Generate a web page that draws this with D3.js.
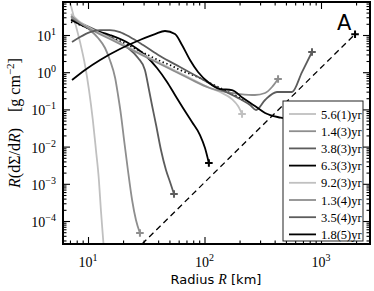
<!DOCTYPE html>
<html><head><meta charset="utf-8">
<script src="https://cdn.jsdelivr.net/npm/d3@7"></script>
<style>body{margin:0;background:#fff}svg{display:block}</style>
</head><body>
<svg id="c" width="374" height="291"></svg>
<script>
// ---- data ----
const legendLabels = ["5.6(1)yr","1.4(3)yr","3.8(3)yr","6.3(3)yr","9.2(3)yr","1.3(4)yr","3.5(4)yr","1.8(5)yr"];
const lineColors = ["#c0c0c0","#8e8e8e","#5c5c5c","#000000","#c0c0c0","#8e8e8e","#5c5c5c","#000000"];

const R1 = [7.0,7.4,7.73,8.54,9.42,10.2,11.0,11.7,12.4,12.9,13.5,13.9];
const V1 = [75,40,22.3,6.48,1.56,0.332,0.0519,0.0081,0.00127,0.000198,3.08e-5,8.95e-6];

const R2 = [7.15,8.54,10.4,12.2,14.0,15.4,17.1,18.1,19.2,20.4,22.0,23.9,25.8,27.9];
const V2 = [30.5,21.0,13.6,8.30,4.47,2.13,0.698,0.244,0.0707,0.0150,0.00235,0.000367,0.000106,4.75e-5];

const R3 = [7.15,9.42,12.7,17.1,22.0,26.9,30.8,33.4,35.4,38.4,42.3,46.7,50.6,54.7];
const V3 = [26.9,18.6,12.0,7.34,4.47,2.41,1.15,0.332,0.131,0.0381,0.0081,0.00235,0.00112,0.000532];

const R4 = [7.15,10.4,15.4,22.9,30.8,39.1,47.7,55.8,65.4,78.1,91.5,101,109];
const V4 = [25.3,14.5,10.0,5.73,2.90,1.30,0.545,0.244,0.109,0.0458,0.0205,0.00917,0.00362];

const R5 = [7.15,8.54,10.4,15.4,22.9,34.0,50.6,75.1,111,141,172,194,210];
const V5 = [36.7,22.3,15.4,8.30,4.47,2.41,1.30,0.698,0.376,0.276,0.190,0.123,0.0752];

const R6 = [7.15,8.54,10.4,15.4,22.9,34.0,50.6,75.1,111,150,202,271,331,380,428];
const V6 = [32.4,21.0,14.5,7.80,4.20,2.27,1.22,0.656,0.376,0.294,0.259,0.244,0.276,0.400,0.656];

const R7 = [7.29,8.54,10.4,12.7,15.4,18.8,22.9,29.7,41.5,61.6,91.5,136,202,246,277,331,419,564,687,837];
const V7 = [6.48,8.84,12.0,13.6,13.6,12.0,8.84,5.39,2.72,1.38,0.698,0.353,0.190,0.131,0.0964,0.179,0.294,0.294,1.01,3.49];

const R8 = [7.29,9.42,12.7,18.8,27.9,37.6,45.8,55.8,64.1,75.1,88.0,107,136,172,214,271,331,450,700];
const V8 = [0.617,1.15,2.13,4.20,7.34,10.6,12.8,10.6,5.39,2.13,1.01,0.545,0.353,0.332,0.202,0.123,0.0800,0.060,0.05];

const Rdot = [7.15,8.54,10.4,12.7,15.4,18.8,22.9,27.9,34.0,41.5,50.6,61.6,75.1,91.5,111,136,166,202,223];
const Vdot = [22.3,18.6,14.5,11.3,8.84,6.90,5.06,3.71,2.72,2.00,1.56,1.15,0.895,0.698,0.512,0.376,0.276,0.202,0.158];

const Rdash = [29.1,1960];
const Vdash = [2.41e-5,10.5];

const xMajor = [10,100,1000];
const yMajor = [1e-4,1e-3,1e-2,1e-1,1,10];
const xTickLabels = ["1","2","3"];
const yTickLabels = ["\u22124","\u22123","\u22122","\u22121","0","1"];

// ---- chart ----
const seriesR = [R1,R2,R3,R4,R5,R6,R7,R8];
const seriesV = [V1,V2,V3,V4,V5,V6,V7,V8];

const svg = d3.select("#c");
const L=63, Rr=370, T=2, B=244;
const x = d3.scaleLog().domain([6.10,2634]).range([L,Rr]);
const y = d3.scaleLog().domain([2.41e-5,77.1]).range([B,T]);

svg.append("defs").append("clipPath").attr("id","clip")
  .append("rect").attr("x",L).attr("y",T).attr("width",Rr-L).attr("height",B-T);

const plot = svg.append("g").attr("clip-path","url(#clip)");
const line = d3.line().x(d=>x(d[0])).y(d=>y(d[1])).curve(d3.curveMonotoneX);

// dashed reference line
plot.append("path").datum(Rdash.map((r,i)=>[r,Vdash[i]]))
  .attr("d",d3.line().x(d=>x(d[0])).y(d=>y(d[1])))
  .attr("fill","none").attr("stroke","#000").attr("stroke-width",1.3).attr("stroke-dasharray","6,4");

// dotted
plot.append("path").datum(Rdot.map((r,i)=>[r,Vdot[i]]))
  .attr("d",line).attr("fill","none").attr("stroke","#000").attr("stroke-width",1.8)
  .attr("stroke-dasharray","1.4,2.6");

seriesR.forEach((rs,k)=>{
  const pts = rs.map((r,i)=>[r,seriesV[k][i]]);
  plot.append("path").datum(pts).attr("d",line)
    .attr("fill","none").attr("stroke",lineColors[k]).attr("stroke-width",1.8).attr("stroke-linejoin","round");
});

// + markers at outer ends
const plusSize=3.8;
seriesR.forEach((rs,k)=>{
  if(k===0) return;
  const px=x(rs[rs.length-1]), py=y(seriesV[k][rs.length-1]);
  plot.append("path").attr("d",`M${px-plusSize},${py}H${px+plusSize}M${px},${py-plusSize}V${py+plusSize}`)
    .attr("stroke",lineColors[k]).attr("stroke-width",2);
});

// axes ticks (inward)
function minors(lo,hi){const a=[];for(let e=-6;e<=4;e++)for(let m=2;m<=9;m++){const v=m*Math.pow(10,e);if(v>=lo&&v<=hi)a.push(v);}return a;}
const xMin = minors(6.10,2634), yMin = minors(2.41e-5,77.1);
function ax(gen,sc,vals,size,tr){
  const g=svg.append("g").attr("transform",tr).call(gen(sc).tickValues(vals).tickSize(size).tickFormat(""));
  g.select(".domain").remove();
  g.selectAll("line").attr("stroke","#000").attr("stroke-width",1.1);
}
ax(d3.axisBottom,x,xMajor,-7,`translate(0,${B})`);
ax(d3.axisBottom,x,xMin,-3.5,`translate(0,${B})`);
ax(d3.axisTop,x,xMajor,-7,`translate(0,${T})`);
ax(d3.axisTop,x,xMin,-3.5,`translate(0,${T})`);
ax(d3.axisLeft,y,yMajor,-7,`translate(${L},0)`);
ax(d3.axisLeft,y,yMin,-3.5,`translate(${L},0)`);
ax(d3.axisRight,y,yMajor,-7,`translate(${Rr},0)`);
ax(d3.axisRight,y,yMin,-3.5,`translate(${Rr},0)`);

// A marker
const Ax=x(Rdash[1]), Ay=y(Vdash[1]);
svg.append("path").attr("d",`M${Ax-plusSize},${Ay}H${Ax+plusSize}M${Ax},${Ay-plusSize}V${Ay+plusSize}`)
  .attr("stroke","#000").attr("stroke-width",2);
svg.append("text").attr("x",Ax-18).attr("y",Ay-4).attr("font-family","DejaVu Sans").attr("font-size",21).text("A");

// legend
const lg = svg.append("g");
lg.append("rect").attr("x",283).attr("y",101).attr("width",80).attr("height",140)
  .attr("fill","#fff").attr("stroke","#222").attr("stroke-width",1);
legendLabels.forEach((lab,i)=>{
  const yy=114+i*17.2;
  lg.append("line").attr("x1",289).attr("x2",316).attr("y1",yy).attr("y2",yy)
    .attr("stroke",lineColors[i]).attr("stroke-width",1.8);
  lg.append("text").attr("x",321).attr("y",yy+4.5).attr("font-family","Liberation Serif")
    .attr("font-size",12.5).text(lab);
});

// frame
svg.append("rect").attr("x",L).attr("y",T).attr("width",Rr-L).attr("height",B-T)
  .attr("fill","none").attr("stroke","#000").attr("stroke-width",2);

// tick labels
xMajor.forEach((v,i)=>{
  const t=svg.append("text").attr("x",x(v)).attr("y",267).attr("text-anchor","middle")
    .attr("font-family","Liberation Serif").attr("font-size",14);
  t.append("tspan").text("10");
  t.append("tspan").attr("dy",-6).attr("font-size",10).text(xTickLabels[i]);
});
yMajor.forEach((v,i)=>{
  const t=svg.append("text").attr("x",56).attr("y",y(v)+6).attr("text-anchor","end")
    .attr("font-family","Liberation Serif").attr("font-size",14);
  t.append("tspan").text("10");
  t.append("tspan").attr("dy",-6).attr("font-size",10).text(yTickLabels[i]);
});

// axis labels
const xl=svg.append("text").attr("x",216).attr("y",284).attr("text-anchor","middle").attr("font-size",13);
xl.append("tspan").attr("font-family","DejaVu Sans").text("Radius ");
xl.append("tspan").attr("font-family","Liberation Serif").attr("font-style","italic").attr("font-size",14).text("R");
xl.append("tspan").attr("font-family","DejaVu Sans").text(" [km]");

const yl=svg.append("text").attr("transform","translate(20,123) rotate(-90)").attr("text-anchor","middle")
  .attr("font-family","Liberation Serif").attr("font-size",16);
yl.append("tspan").attr("font-style","italic").text("R");
yl.append("tspan").text("(d\u03A3/d");
yl.append("tspan").attr("font-style","italic").text("R");
yl.append("tspan").text(")\u2002\u2002[g cm");
yl.append("tspan").attr("dy",-6).attr("font-size",11).text("\u22122");
yl.append("tspan").attr("dy",6).text("]");
</script>
</body></html>
